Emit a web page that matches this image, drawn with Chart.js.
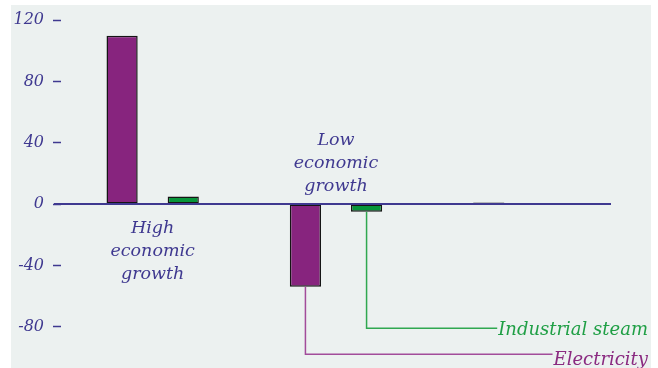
<!DOCTYPE html>
<html>
<head>
<meta charset="utf-8">
<script src="https://cdn.jsdelivr.net/npm/chart.js@4"></script>
<style>
  body { margin: 0; background: #fff; }
  #wrap { position: absolute; left: 11px; top: 5px; width: 640px; height: 363px; background: #ecf1f0; }
</style>
</head>
<body>
<div id="wrap"><canvas id="chart"></canvas></div>
<script>
// data
const categories = [["High", "economic", "growth"], ["Low", "economic", "growth"], []];
const electricity = [110, -54, 1];
const industrialSteam = [5, -5, 0];
const yTicks = [-80, -40, 0, 40, 80, 120];
const seriesNames = ["Electricity", "Industrial steam"];
const leaderCategory = 1;          // leaders hang off the "Low economic growth" bars
const leaderLevels = [-98, -81];   // y value of each leader's horizontal run

const textColor = "#3f3990";
const purple = "#87247e";
const green = "#07953a";
const leaderColors = ["#a24c9a", "#2fa850"];
const leaderText = ["#8a2a80", "#1f9f45"];
const serif = '"DejaVu Serif"';

const overlay = {
    id: "overlay",
    afterDatasetsDraw(chart) {
        const ctx = chart.ctx;
        const area = chart.chartArea;
        const x = chart.scales.x, y = chart.scales.y;
        const zeroY = y.getPixelForValue(0);
        ctx.save();

        // zero line
        ctx.strokeStyle = textColor;
        ctx.lineWidth = 2;
        ctx.beginPath();
        ctx.moveTo(area.left - 7, zeroY);
        ctx.lineTo(area.right, zeroY);
        ctx.stroke();

        // category labels, on the side opposite the bars
        ctx.font = "italic 17.5px " + serif;
        ctx.fillStyle = textColor;
        ctx.textAlign = "center";
        categories.forEach((lines, i) => {
            let cx = x.getPixelForValue(i);
            let up = electricity[i] < 0;
            lines.forEach((t, j) => {
                let ty = up ? zeroY - 13 - (lines.length - 1 - j) * 23 : zeroY + 29 + j * 23;
                ctx.fillText(t, cx, ty);
            });
        });

        // leader lines to the series names
        ctx.font = "italic 18px " + serif;
        ctx.textAlign = "right";
        ctx.textBaseline = "alphabetic";
        [0, 1].forEach(d => {
            let bar = chart.getDatasetMeta(d).data[leaderCategory];
            let ly = y.getPixelForValue(leaderLevels[d]);
            let tw = ctx.measureText(seriesNames[d]).width;
            let right = chart.width - 3;
            ctx.strokeStyle = leaderColors[d];
            ctx.lineWidth = 1.5;
            ctx.beginPath();
            ctx.moveTo(bar.x, bar.y);
            ctx.lineTo(bar.x, ly);
            ctx.lineTo(right - tw - 1, ly);
            ctx.stroke();
            ctx.fillStyle = leaderText[d];
            ctx.fillText(seriesNames[d], right, ly + (d === 0 ? 11 : 7));
        });
        ctx.restore();
    }
};

new Chart(document.getElementById("chart").getContext("2d"), {
    type: "bar",
    data: {
        labels: categories.map(c => c.join(" ")),
        datasets: [
            {
                label: seriesNames[0],
                data: electricity,
                backgroundColor: purple,
                borderColor: "#151515",
                borderWidth: 1.5,
                borderSkipped: false
            },
            {
                label: seriesNames[1],
                data: industrialSteam,
                backgroundColor: green,
                borderColor: "#151515",
                borderWidth: 1.5,
                borderSkipped: false
            }
        ]
    },
    options: {
        responsive: true,
        maintainAspectRatio: false,
        animation: false,
        layout: { padding: { left: 0, right: 40, top: 0, bottom: 0 } },
        datasets: { bar: { barPercentage: 0.51, categoryPercentage: 0.667 } },
        plugins: { legend: { display: false }, tooltip: { enabled: false } },
        scales: {
            x: { display: false },
            y: {
                min: -107,
                max: 130,
                afterBuildTicks: s => { s.ticks = yTicks.map(v => ({ value: v })); },
                afterFit: s => { s.width = 50; s.paddingTop = 0; s.paddingBottom = 0; },
                border: { display: false },
                grid: { drawOnChartArea: false, drawTicks: true, tickLength: 8, tickWidth: 1.5, tickColor: textColor },
                ticks: { color: textColor, padding: 9, font: { family: "DejaVu Serif", style: "italic", size: 16 } }
            }
        }
    },
    plugins: [overlay]
});
</script>
</body>
</html>
